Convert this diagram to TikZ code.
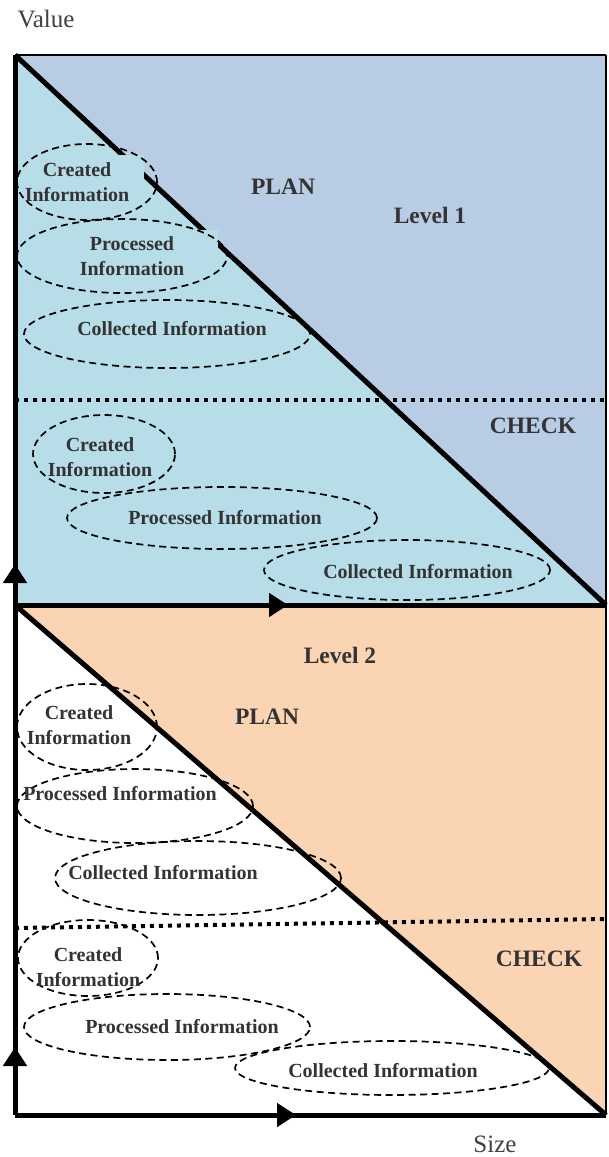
\documentclass[tikz,border=0pt]{standalone}
\usepackage{fontspec}
\setmainfont{Liberation Serif}
\usetikzlibrary{arrows.meta,shapes.geometric}
\definecolor{topblue}{HTML}{B8CCE4}
\definecolor{aqua}{HTML}{B7DDE8}
\definecolor{peach}{HTML}{FBD4B4}
\definecolor{txt}{HTML}{333333}
\definecolor{axtxt}{HTML}{404040}
\tikzset{
  ell/.style={draw=black, dash pattern=on 7pt off 4.5pt, line width=1.7pt, ellipse, inner sep=0pt},
  info/.style={text=txt, font=\bfseries\fontsize{20}{24.5}\selectfont, align=center, inner sep=0pt},
  lab/.style={text=txt, font=\bfseries\fontsize{23.5}{27}\selectfont, inner sep=0pt},
  axlab/.style={text=axtxt, font=\fontsize{25}{29}\selectfont, inner sep=0pt},
  thick line/.style={line width=5pt},
  dotline/.style={line width=4pt, dash pattern=on 4pt off 5pt},
  axis/.style={line width=5pt},
  tipped/.style={line width=5pt, -{Triangle[length=19pt,width=23pt]}},
  patch/.style={fill=aqua, draw=none}
}
\begin{document}
\begin{tikzpicture}[x=1pt,y=-1pt]
\useasboundingbox (0,0) rectangle (608,1157);
% corners
\coordinate (TL) at (15,55);
\coordinate (TR) at (606,55);
\coordinate (ML) at (15,605);
\coordinate (MR) at (606,605);
\coordinate (BL) at (15,1115);
\coordinate (BR) at (606,1115);
% fills
\fill[topblue] (TL) -- (TR) -- (MR) -- cycle;
\fill[aqua] (TL) -- (MR) -- (ML) -- cycle;
\fill[peach] (ML) -- (MR) -- (BR) -- cycle;
% thin borders
\draw[line width=1.5pt] (TL) -- (TR);
\draw[line width=1.2pt] (TR) -- (BR);
% diagonals
\draw[thick line] (TL) -- (MR);
\draw[thick line] (ML) -- (BR);
% text-box patches covering the diagonal
\fill[patch] (20,155) rectangle (144,205);
\fill[patch] (40,230) rectangle (218,282);
% dotted lines
\coordinate (d1l) at (15,400);
\coordinate (d1r) at (606,400);
\coordinate (d2l) at (15,928);
\coordinate (d2r) at (606,919);
\draw[dotline] (d1l) -- (d1r);
\draw[dotline] (d2l) -- (d2r);
% ellipses, top panel
\node[ell, minimum width=140pt, minimum height=76pt] (e1) at (87,182) {};
\node[ell, minimum width=210pt, minimum height=74pt] (e2) at (122,256) {};
\node[ell, minimum width=286pt, minimum height=68pt] (e3) at (167,334) {};
\node[ell, minimum width=142pt, minimum height=78pt] (e4) at (104,454) {};
\node[ell, minimum width=310pt, minimum height=62pt] (e5) at (222,518) {};
\node[ell, minimum width=286pt, minimum height=60pt] (e6) at (407,570) {};
% ellipses, bottom panel
\node[ell, minimum width=140pt, minimum height=86pt] (e7) at (87,727) {};
\node[ell, minimum width=236pt, minimum height=74pt] (e8) at (135,806) {};
\node[ell, minimum width=286pt, minimum height=74pt] (e9) at (198,878) {};
\node[ell, minimum width=140pt, minimum height=76pt] (e10) at (88,958) {};
\node[ell, minimum width=286pt, minimum height=66pt] (e11) at (167,1027) {};
\node[ell, minimum width=314pt, minimum height=54pt] (e12) at (392,1068) {};
% ellipse texts
\node[info] (t1) at (77,182) {Created\\Information};
\node[info] (t2) at (132,256) {Processed\\Information};
\node[info] (t3) at (172,329) {Collected Information};
\node[info] (t4) at (100,457) {Created\\Information};
\node[info] (t5) at (225,518) {Processed Information};
\node[info] (t6) at (418,572) {Collected Information};
\node[info] (t7) at (79,725) {Created\\Information};
\node[info] (t8) at (120,794) {Processed Information};
\node[info] (t9) at (163,873) {Collected Information};
\node[info] (t10) at (88,967) {Created\\Information};
\node[info] (t11) at (182,1027) {Processed Information};
\node[info] (t12) at (383,1071) {Collected Information};
% region labels
\node[lab] (plan1) at (283,187) {PLAN};
\node[lab] (lev1) at (430,215) {Level 1};
\node[lab] (check1) at (533,426) {CHECK};
\node[lab] (lev2) at (340,655) {Level 2};
\node[lab] (plan2) at (267,717) {PLAN};
\node[lab] (check2) at (539,959) {CHECK};
% axis labels
\node[axlab] (value) at (46,19) {Value};
\node[axlab] (size) at (495,1144) {Size};
% axes
\coordinate (vt1) at (15,564);
\coordinate (ht1) at (288,605);
\coordinate (vt2) at (15,1047);
\coordinate (ht2) at (296,1115);
\draw[axis] (ML) -- (TL);
\draw[axis] (ML) -- (MR);
\draw[axis] (BL) -- (ML);
\draw[axis] (BL) -- (BR);
\draw[tipped] (ML) -- (vt1);
\draw[tipped] (ML) -- (ht1);
\draw[tipped] (BL) -- (vt2);
\draw[tipped] (BL) -- (ht2);
\end{tikzpicture}
\end{document}
